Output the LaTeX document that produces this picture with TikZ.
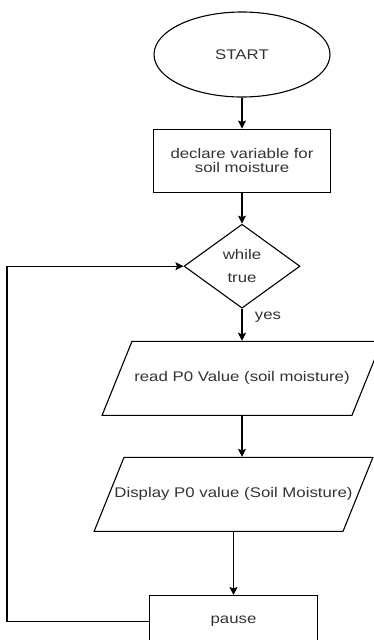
\documentclass[tikz,border=0pt]{standalone}
\usepackage{fontspec}
\setmainfont[FakeStretch=1.2]{Liberation Sans}
\usetikzlibrary{positioning}
\usetikzlibrary{shapes.geometric}
\usetikzlibrary{arrows.meta}

\tikzset{
    arr/.style={-{Stealth[length=8pt, width=8pt, inset=1.5pt]}},
    io/.style={trapezium, draw,
        trapezium left angle=68,
        trapezium right angle=112,
        text height=9.5pt, text depth=3pt,
        inner xsep=0pt, inner ysep=30.75pt}
}

\begin{document}
\begin{tikzpicture}[x=1pt, y=1pt,
    every node/.style={font=\fontsize{14}{14}\selectfont, text=black!80},
    line width=1.1pt]
\useasboundingbox (0,0) rectangle (374,-640);

 % Start shape
 \node[ellipse, draw, minimum width=176pt, minimum height=85pt] (start) at (242,-54.5) {START};

 % Declare
 \node [draw,
    minimum width=177pt,
    minimum height=63pt,
    align=center,
    below=31pt of start
 ] (declare) {declare variable for\\soil moisture};

 % Loop condition
 \node [diamond, draw,
    minimum width=116pt,
    minimum height=84pt,
    inner sep=0pt,
    align=center,
    below=31pt of declare
 ] (while) {while\\[9pt]true};

 % Input
 \node [io,
    below=32pt of while
 ] (read) {\makebox[220pt]{read P0 Value (soil moisture)}};

 % Output
 \node [io,
    below=41pt of read,
    xshift=-8.5pt
 ] (display) {\makebox[219pt]{Display P0 value (Soil Moisture)}};

 % Pause
 \node [draw,
    minimum width=168pt,
    minimum height=52pt,
    below=63pt of display
 ] (pause) {pause};

\draw[arr] (start.south) -- (declare.north);
\draw[arr] (declare.south) -- (while.north);
\draw[arr] (while.south) -- (read.north) node[pos=0.25, right=9pt]{yes};
\draw[arr] (read.south) -- (read.south |- display.north);
\draw[arr] (display.south) -- (pause.north);

% back to the condition
\draw[arr] (pause.west) -- ++(-142,0) |- (while.west);
\end{tikzpicture}
\end{document}
